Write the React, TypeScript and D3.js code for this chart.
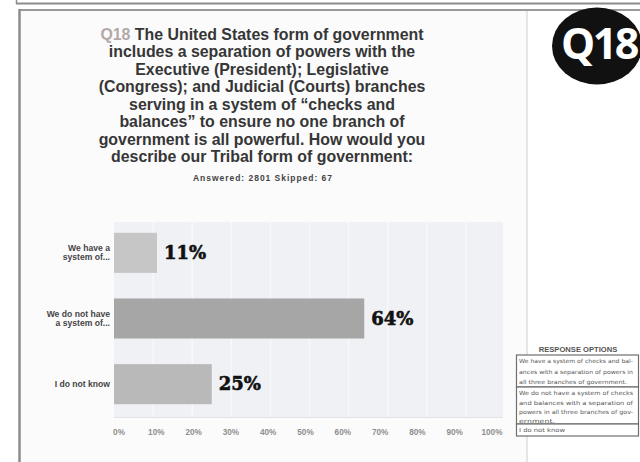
import { useEffect, useRef } from "react"
import * as d3 from "d3"

// survey answers
const categories = ["We have a system of...", "We do not have a system of...", "I do not know"]
const categoryLines = [["We have a", "system of..."], ["We do not have", "a system of..."], ["I do not know"]]
const percents = [11, 64, 25]
const barColors = ["#c6c6c6", "#a6a6a6", "#b9b9b9"]
const tickValues = [0, 10, 20, 30, 40, 50, 60, 70, 80, 90, 100]

const titleLines = [
    "The United States form of government",
    "includes a separation of powers with the",
    "Executive (President); Legislative",
    "(Congress); and Judicial (Courts) branches",
    "serving in a system of \u201cchecks and",
    "balances\u201d to ensure no one branch of",
    "government is all powerful. How would you",
    "describe our Tribal form of government:",
]
const answeredText = "Answered: 2801   Skipped: 67"

const responseOptions = [
    ["We have a system of checks and bal-", "ances with a separation of powers in", "all three branches of government."],
    ["We do not have a system of checks", "and balances with a separation of", "powers in all three branches of gov-", "ernment."],
    ["I do not know"],
]
// width each printed line takes in the box (0 = natural width)
const responseLineWidths = [[114, 114, 108], [114, 114, 114, 36], [46]]

export default function App() {
    const svgRef = useRef<SVGSVGElement>(null)

    useEffect(() => {
        if (!svgRef.current) return
        const svg = d3.select(svgRef.current)
        svg.selectAll("*").remove()

        svg.append("rect").attr("width", 640).attr("height", 462).attr("fill", "#ffffff")
        // slide frame
        svg.append("rect").attr("x", 19).attr("y", 10).attr("width", 508).attr("height", 452).attr("fill", "#fbfbfc")
        svg.append("line").attr("x1", 16).attr("x2", 640).attr("y1", 3.5).attr("y2", 3.5).attr("stroke", "#8c8c8c").attr("stroke-width", 2)
        svg.append("line").attr("x1", 16.5).attr("x2", 16.5).attr("y1", 0).attr("y2", 4).attr("stroke", "#8c8c8c").attr("stroke-width", 1.5)
        svg.append("line").attr("x1", 19).attr("x2", 640).attr("y1", 10).attr("y2", 10).attr("stroke", "#9a9a9a").attr("stroke-width", 2)
        svg.append("line").attr("x1", 19.5).attr("x2", 19.5).attr("y1", 9).attr("y2", 462).attr("stroke", "#8c8c8c").attr("stroke-width", 2.5)
        svg.append("line").attr("x1", 527).attr("x2", 527).attr("y1", 11).attr("y2", 462).attr("stroke", "#e6e6e6").attr("stroke-width", 2)

        // title
        const title = svg.append("text")
            .attr("text-anchor", "middle")
            .attr("font-family", "Liberation Sans, Arial, sans-serif")
            .attr("font-weight", "bold")
            .attr("font-size", 15.9)
            .attr("fill", "#363636")
        titleLines.forEach((line, i) => {
            const t = title.append("tspan").attr("x", 262).attr("y", 39.5 + i * 17.5)
            if (i === 0) t.append("tspan").attr("fill", "#b3a8a8").text("Q18 ")
            t.append("tspan").text(line)
        })
        svg.append("text")
            .attr("x", 193).attr("y", 181)
            .attr("font-family", "Liberation Sans, Arial, sans-serif")
            .attr("font-weight", "bold")
            .attr("font-size", 8.5)
            .attr("textLength", 139)
            .attr("lengthAdjust", "spacing")
            .attr("fill", "#444")
            .text(answeredText)

        // chart
        const x = d3.scaleLinear().domain([0, 100]).range([114, 505])
        const xLabel = d3.scaleLinear().domain([0, 100]).range([119, 492])
        const y = d3.scaleBand().domain(categories).range([220, 417]).paddingInner(0.39).paddingOuter(0.195)

        svg.append("rect").attr("x", x(0)).attr("y", 222).attr("width", 389).attr("height", 195).attr("fill", "#eff1f5")
        svg.append("line").attr("x1", x(0)).attr("x2", 503).attr("y1", 417.5).attr("y2", 417.5).attr("stroke", "#e0e2e6")
        svg.append("g").selectAll("line").data(tickValues.slice(1, -1)).join("line")
            .attr("x1", d => x(d)).attr("x2", d => x(d))
            .attr("y1", 222).attr("y2", 417)
            .attr("stroke", "#f7f8fa").attr("stroke-width", 1.5)

        svg.append("g").selectAll("rect").data(percents).join("rect")
            .attr("x", x(0))
            .attr("y", (_, i) => y(categories[i]) ?? 0)
            .attr("width", d => x(d) - x(0))
            .attr("height", y.bandwidth())
            .attr("fill", (_, i) => barColors[i])

        svg.append("g").selectAll("text").data(percents).join("text")
            .attr("x", d => x(d) + 7)
            .attr("y", (_, i) => (y(categories[i]) ?? 0) + y.bandwidth() / 2 + 6)
            .attr("font-family", "DejaVu Serif, serif")
            .attr("font-weight", "bold")
            .attr("font-size", 18)
            .attr("fill", "#111")
            .attr("stroke", "#111")
            .attr("stroke-width", 0.6)
            .text(d => `${d}%`)

        const cat = svg.append("g")
            .attr("font-family", "Liberation Sans, Arial, sans-serif")
            .attr("font-weight", "bold")
            .attr("font-size", 8.6)
            .attr("fill", "#454545")
            .attr("text-anchor", "end")
        categories.forEach((c, i) => {
            const lines = categoryLines[i]
            const mid = (y(c) ?? 0) + y.bandwidth() / 2
            const t = cat.append("text")
            lines.forEach((l, j) => {
                t.append("tspan").attr("x", 110).attr("y", mid + 3 + (j - (lines.length - 1) / 2) * 9.3).text(l)
            })
        })

        svg.append("g").selectAll("text").data(tickValues).join("text")
            .attr("x", d => xLabel(d))
            .attr("y", 435)
            .attr("text-anchor", "middle")
            .attr("font-family", "Liberation Sans, Arial, sans-serif")
            .attr("font-weight", "bold")
            .attr("font-size", 8.2)
            .attr("fill", "#8e8e8e")
            .text(d => `${d}%`)

        // badge
        svg.append("ellipse").attr("cx", 597).attr("cy", 46).attr("rx", 45).attr("ry", 38.5).attr("fill", "#111")
        svg.append("text")
            .attr("x", 599).attr("y", 59)
            .attr("text-anchor", "middle")
            .attr("font-family", "Open Sans, sans-serif")
            .attr("font-weight", "bold")
            .attr("font-size", 43)
            .attr("letter-spacing", -2.5)
            .attr("fill", "#ffffff")
            .text("Q18")

        // response options box
        svg.append("text")
            .attr("x", 578).attr("y", 351.5)
            .attr("text-anchor", "middle")
            .attr("font-family", "Liberation Sans, Arial, sans-serif")
            .attr("font-weight", "bold")
            .attr("font-size", 7.6)
            .attr("fill", "#555")
            .text("RESPONSE OPTIONS")
        const rows = [[355, 387], [387, 424], [424, 436]]
        const box = svg.append("g")
        rows.forEach(([top, bottom], i) => {
            box.append("rect").attr("x", 516.5).attr("y", top).attr("width", 122).attr("height", bottom - top)
                .attr("fill", "#ffffff").attr("stroke", "#6e6e6e").attr("stroke-width", 1.2)
            responseOptions[i].forEach((l, j) => {
                box.append("text")
                    .attr("x", 519)
                    .attr("y", top + 8.3 + j * (i === 0 ? 10.3 : 9.2))
                    .attr("font-family", "DejaVu Sans, sans-serif")
                    .attr("font-size", 5.6)
                    .attr("textLength", responseLineWidths[i][j])
                    .attr("lengthAdjust", "spacingAndGlyphs")
                    .attr("fill", "#555")
                    .text(l)
            })
        })
    }, [])

    return <svg ref={svgRef} width={640} height={462} style={{ position: "absolute", left: 0, top: 0 }} />
}
